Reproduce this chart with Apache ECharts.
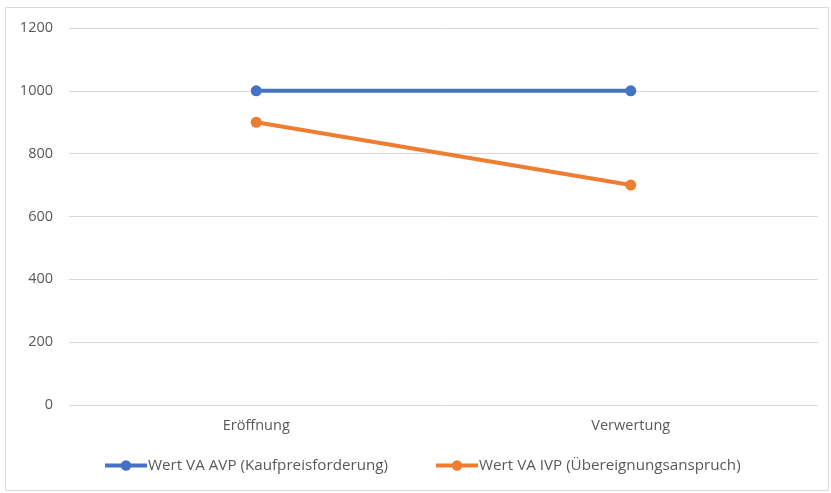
<!DOCTYPE html>
<html>
<head>
<meta charset="utf-8">
<script src="https://cdn.jsdelivr.net/npm/echarts@6/dist/echarts.min.js"></script>
<style>
html,body{margin:0;padding:0;background:#fff;}
#chart{width:831px;height:493px;}
</style>
</head>
<body>
<div id="chart"></div>
<script>
var categories = ['Eröffnung', 'Verwertung'];
var seriesNames = ['Wert VA AVP (Kaufpreisforderung)', 'Wert VA IVP (Übereignungsanspruch)'];
var avpValues = [1000, 1000];
var ivpValues = [900, 700];
var yTicks = [0, 200, 400, 600, 800, 1000, 1200];

var chart = echarts.init(document.getElementById('chart'));
var font = '"Open Sans", "Liberation Sans", sans-serif';
chart.setOption({
  animation: false,
  textStyle: {fontFamily: font},
  graphic: [{
    type: 'rect',
    shape: {x: 5.5, y: 7.5, width: 823, height: 483},
    style: {fill: 'none', stroke: '#d9d9d9', lineWidth: 1},
    silent: true
  }],
  grid: {left: 69, right: 13, top: 28, bottom: 88},
  legend: {
    bottom: 15,
    left: 98,
    itemWidth: 42,
    itemHeight: 13,
    itemGap: 46,
    lineStyle: {width: 4},
    textStyle: {color: '#595959', fontSize: 15.2, fontFamily: font, padding: [0, 0, 0, -4]},
    data: seriesNames
  },
  xAxis: {
    type: 'category',
    data: categories,
    boundaryGap: true,
    axisLine: {show: false},
    axisTick: {show: false},
    axisLabel: {color: '#595959', fontSize: 14.5, margin: 13, fontFamily: font}
  },
  yAxis: {
    type: 'value',
    min: yTicks[0],
    max: yTicks[yTicks.length - 1],
    interval: 200,
    axisLine: {show: false},
    axisTick: {show: false},
    axisLabel: {color: '#595959', fontSize: 14.5, margin: 16, fontFamily: font,
      formatter: function (v) { return String(v); }},
    splitLine: {lineStyle: {color: '#d9d9d9', width: 1}}
  },
  series: [{
    name: seriesNames[0],
    type: 'line',
    data: avpValues,
    symbol: 'circle',
    symbolSize: 11,
    color: '#4472C4',
    lineStyle: {width: 4, color: '#4472C4'},
    itemStyle: {color: '#4472C4'}
  }, {
    name: seriesNames[1],
    type: 'line',
    data: ivpValues,
    symbol: 'circle',
    symbolSize: 11,
    color: '#ED7D31',
    lineStyle: {width: 4, color: '#ED7D31'},
    itemStyle: {color: '#ED7D31'}
  }]
});
</script>
</body>
</html>
